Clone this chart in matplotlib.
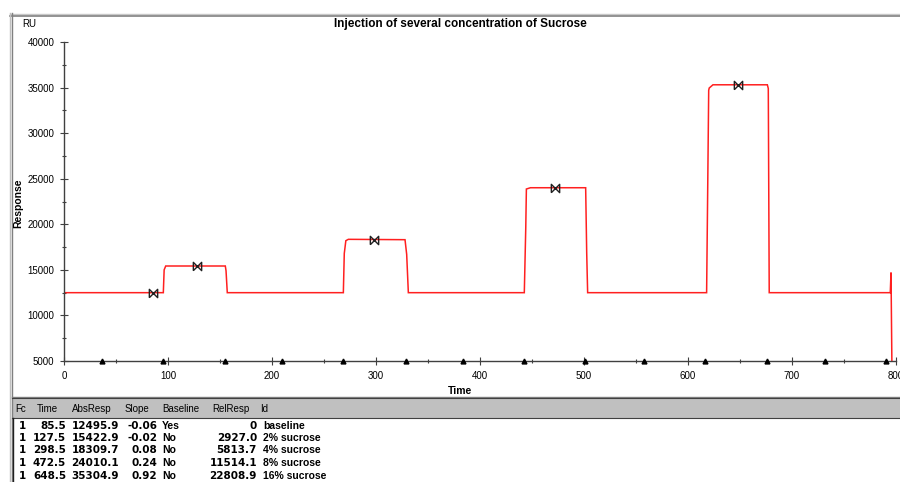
import matplotlib
matplotlib.use("Agg")
import matplotlib.pyplot as plt
from matplotlib.path import Path
from matplotlib.lines import Line2D
from matplotlib.patches import Rectangle

# ---------------- data ----------------
time_s = [0, 95.5, 96.3, 97.8, 155.1, 155.8, 157.0,
          268.6, 269.5, 271.0, 273.4, 327.9, 329.5, 331.1,
          442.6, 444.0, 444.6, 448.5, 501.6, 502.6, 503.5,
          617.9, 619.0, 619.9, 620.4, 624.0, 676.3, 677.2, 678.1,
          794.5, 795.2, 796.2]
response = [12496, 12496, 15000, 15423, 15423, 14900, 12496,
            12496, 16800, 18200, 18350, 18310, 16700, 12496,
            12496, 19600, 23870, 24010, 24010, 16850, 12496,
            12496, 24500, 34700, 34950, 35305, 35305, 34900, 12496,
            12496, 14700, 3000]

report_time = [85.5, 127.5, 298.5, 472.5, 648.5]
report_abs = [12495.9, 15422.9, 18309.7, 24010.1, 35304.9]
report_slope = [-0.06, -0.02, 0.08, 0.24, 0.92]
report_baseline = ["Yes", "No", "No", "No", "No"]
report_rel = ["0", "2927.0", "5813.7", "11514.1", "22808.9"]
report_id = ["baseline", "2% sucrose", "4% sucrose", "8% sucrose", "16% sucrose"]
report_fc = [1, 1, 1, 1, 1]

event_times = [36.5, 95, 154.8, 209.6, 268.3, 328.5, 383.7, 442.3,
               500.9, 557.7, 616.3, 675.9, 731.7, 790.4]

x_ticks = [0, 100, 200, 300, 400, 500, 600, 700, 800]
y_ticks = [5000, 10000, 15000, 20000, 25000, 30000, 35000, 40000]
headers = ["Fc", "Time", "AbsResp", "Slope", "Baseline", "RelResp", "Id"]

# ---------------- layout helpers ----------------
W, H = 900, 482
fig = plt.figure(figsize=(W / 100, H / 100), dpi=100)
fig.patch.set_facecolor("white")


def fx(x):
    return x / W


def fy(y):
    return 1 - y / H


def hline(x0, x1, y, color, lw=1.0):
    fig.add_artist(Line2D([fx(x0), fx(x1)], [fy(y), fy(y)], color=color, lw=lw,
                          transform=fig.transFigure))


def vline(x, y0, y1, color, lw=1.0):
    fig.add_artist(Line2D([fx(x), fx(x)], [fy(y0), fy(y1)], color=color, lw=lw,
                          transform=fig.transFigure))


def rect(x0, y0, x1, y1, color):
    fig.add_artist(Rectangle((fx(x0), fy(y1)), fx(x1) - fx(x0), fy(y0) - fy(y1),
                             facecolor=color, edgecolor="none",
                             transform=fig.transFigure, zorder=0))


# window frame
hline(10, 900, 13.5, "#c8c8c8", 1.0)
hline(10, 900, 15.5, "#808080", 1.2)
vline(10, 13, 482, "#c0c0c0", 1.0)
vline(11.5, 13, 482, "#808080", 1.0)

# table header band
rect(12, 397, 900, 418, "#c0c0c0")
hline(12, 900, 396.5, "#808080", 1.0)
hline(12, 900, 398, "#404040", 0.8)
hline(12, 900, 417.5, "#404040", 0.8)
vline(13, 418, 482, "#202020", 1.0)

# ---------------- axes ----------------
ax = fig.add_axes([fx(64), fy(361), fx(896) - fx(64), fy(42) - fy(361)])
ax.set_facecolor("none")
ax.set_xlim(0, 800)
ax.set_ylim(5000, 40000)
for s in ["top", "right"]:
    ax.spines[s].set_visible(False)
for s in ["left", "bottom"]:
    ax.spines[s].set_color("#404040")
    ax.spines[s].set_linewidth(1.0)

ax.set_xticks(x_ticks)
ax.set_yticks(y_ticks)
ax.set_xticks([50 + 100 * i for i in range(8)], minor=True)
ax.set_yticks([7500 + 5000 * i for i in range(7)], minor=True)
ax.tick_params(axis="both", which="major", direction="inout", length=6,
               width=0.8, color="#404040", labelsize=7, pad=4)
ax.tick_params(axis="both", which="minor", direction="inout", length=3,
               width=0.8, color="#404040")
for lab in ax.get_xticklabels() + ax.get_yticklabels():
    lab.set_fontfamily("Liberation Sans")

ax.plot(time_s, response, color="#ff2020", lw=1.1, solid_joinstyle="miter")

bowtie = Path([(-1, -1), (-1, 1), (1, -1), (1, 1), (-1, -1)],
              [Path.MOVETO, Path.LINETO, Path.LINETO, Path.LINETO, Path.LINETO])
ax.plot(report_time, report_abs, linestyle="none", marker=bowtie, markersize=6,
        markerfacecolor="none", markeredgecolor="#202020", markeredgewidth=1.0)

ax.plot(event_times, [5000] * len(event_times), linestyle="none", marker="^",
        markersize=3.5, color="black", clip_on=False, zorder=5)

# ---------------- texts ----------------
fig.text(fx(460), fy(24), "Injection of several concentration of Sucrose",
         ha="center", va="center", fontsize=8.5, fontweight="bold",
         family="Liberation Sans")
fig.text(fx(22), fy(24), "RU", ha="left", va="center", fontsize=7,
         family="Liberation Sans")
fig.text(fx(18), fy(203), "Response", ha="center", va="center", rotation=90,
         fontsize=7.5, fontweight="bold", family="Liberation Sans")
fig.text(fx(460), fy(391), "Time", ha="center", va="center", fontsize=7.5,
         fontweight="bold", family="Liberation Sans")

# table header
header_x = [15, 37, 72, 125, 162, 212, 260]
for hx, h in zip(header_x, headers):
    fig.text(fx(hx), fy(409), h, ha="left", va="center", fontsize=7,
             family="Liberation Sans")

row_y = [426, 438, 450, 463, 476]
for i, ry in enumerate(row_y):
    num = dict(va="center", fontsize=7.5, fontweight="bold", family="DejaVu Sans")
    txt = dict(va="center", fontsize=7.5, fontweight="bold", family="Liberation Sans")
    fig.text(fx(26), fy(ry), str(report_fc[i]), ha="right", **num)
    fig.text(fx(66), fy(ry), f"{report_time[i]:.1f}", ha="right", **num)
    fig.text(fx(119), fy(ry), f"{report_abs[i]:.1f}", ha="right", **num)
    fig.text(fx(157), fy(ry), f"{report_slope[i]:.2f}", ha="right", **num)
    fig.text(fx(162), fy(ry), report_baseline[i], ha="left", **txt)
    fig.text(fx(257), fy(ry), report_rel[i], ha="right", **num)
    fig.text(fx(263), fy(ry), report_id[i], ha="left", **txt)

fig.savefig("out.png", dpi=100)
